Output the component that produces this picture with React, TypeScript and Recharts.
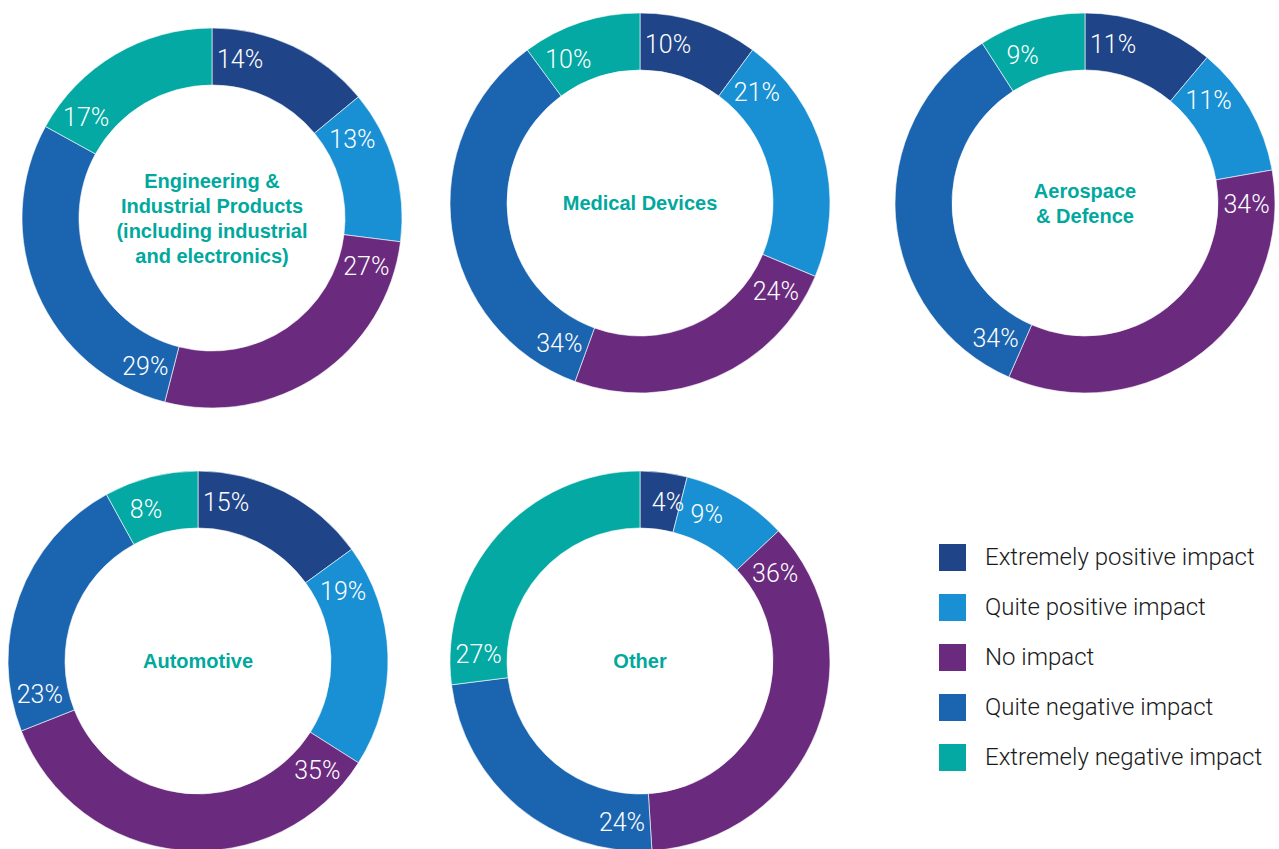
import { PieChart, Pie, Cell, Label, Legend } from 'recharts';

const categories = [
  'Extremely positive impact',
  'Quite positive impact',
  'No impact',
  'Quite negative impact',
  'Extremely negative impact',
];
const colors = ['#1f4588', '#1990d3', '#6a2a7e', '#1b65b0', '#03a9a2'];

const engineering = [14, 13, 27, 29, 17];
const medical = [10, 21, 24, 34, 10];
const aerospace = [11, 11, 34, 34, 9];
const automotive = [15, 19, 35, 23, 8];
const other = [4, 9, 36, 24, 27];

const engineeringTitle = ['Engineering &', 'Industrial Products', '(including industrial', 'and electronics)'];
const medicalTitle = ['Medical Devices'];
const aerospaceTitle = ['Aerospace', '& Defence'];
const automotiveTitle = ['Automotive'];
const otherTitle = ['Other'];

const FONT = "'Liberation Sans', Arial, sans-serif";
const LIGHT = "Roboto, 'Liberation Sans', Arial, sans-serif";
const RAD = Math.PI / 180;
const OUTER = 190;
const INNER = 133;

const toRows = (values: number[]) => categories.map((name, i) => ({ name, value: values[i] }));

// labels sit a little past the start of each slice, not at its middle
function pctLabel(props: any) {
  const { cx, cy, innerRadius, outerRadius, startAngle, value } = props;
  const r = (innerRadius + outerRadius) / 2;
  const a = startAngle - 10;
  const x = cx + r * Math.cos(-a * RAD);
  const y = cy + r * Math.sin(-a * RAD) + 1;
  return (
    <text x={x} y={y} fill="#ffffff" fontSize={25} fontWeight={300} fontFamily={LIGHT} textAnchor="middle" dominantBaseline="central">
      {value}%
    </text>
  );
}

function titleContent(cx: number, cy: number, lines: string[]) {
  return () => {
    const lh = 25;
    const top = cy - ((lines.length - 1) * lh) / 2;
    return (
      <text x={cx} y={top} fill="#00a89e" fontSize={20} fontWeight={700} fontFamily={FONT} textAnchor="middle">
        {lines.map((l, i) => (
          <tspan key={i} x={cx} y={top + i * lh} dominantBaseline="central">
            {l}
          </tspan>
        ))}
      </text>
    );
  };
}

function renderLegend() {
  return (
    <div style={{ fontFamily: LIGHT }}>
      {categories.map((name, i) => (
        <div key={name} style={{ display: 'flex', alignItems: 'center', height: 50 }}>
          <span style={{ display: 'inline-block', width: 27, height: 27, background: colors[i], marginRight: 19 }} />
          <span style={{ fontSize: 24, fontWeight: 300, color: '#1a1a1a' }}>{name}</span>
        </div>
      ))}
    </div>
  );
}

const donuts = [
  { values: engineering, title: engineeringTitle, cx: 212, cy: 218 },
  { values: medical, title: medicalTitle, cx: 640, cy: 203 },
  { values: aerospace, title: aerospaceTitle, cx: 1085, cy: 203 },
  { values: automotive, title: automotiveTitle, cx: 198, cy: 661 },
  { values: other, title: otherTitle, cx: 640, cy: 661 },
];

export default function App() {
  return (
    <div style={{ position: 'absolute', left: 0, top: 0, width: 1279, height: 849, background: '#ffffff' }}>
      <PieChart width={1279} height={849} margin={{ top: 0, right: 0, bottom: 0, left: 0 }}>
        {donuts.map((d, k) => (
          <Pie
            key={k}
            data={toRows(d.values)}
            dataKey="value"
            nameKey="name"
            cx={d.cx}
            cy={d.cy}
            innerRadius={INNER}
            outerRadius={OUTER}
            startAngle={90}
            endAngle={-270}
            stroke="#ffffff"
            strokeWidth={0.6}
            label={pctLabel}
            labelLine={false}
            isAnimationActive={false}
          >
            {d.values.map((_, i) => (
              <Cell key={i} fill={colors[i]} />
            ))}
            <Label position="center" content={titleContent(d.cx, d.cy, d.title)} />
          </Pie>
        ))}
        <Legend
          layout="vertical"
          content={renderLegend}
          wrapperStyle={{ left: 939, top: 532, width: 340 }}
        />
      </PieChart>
    </div>
  );
}
